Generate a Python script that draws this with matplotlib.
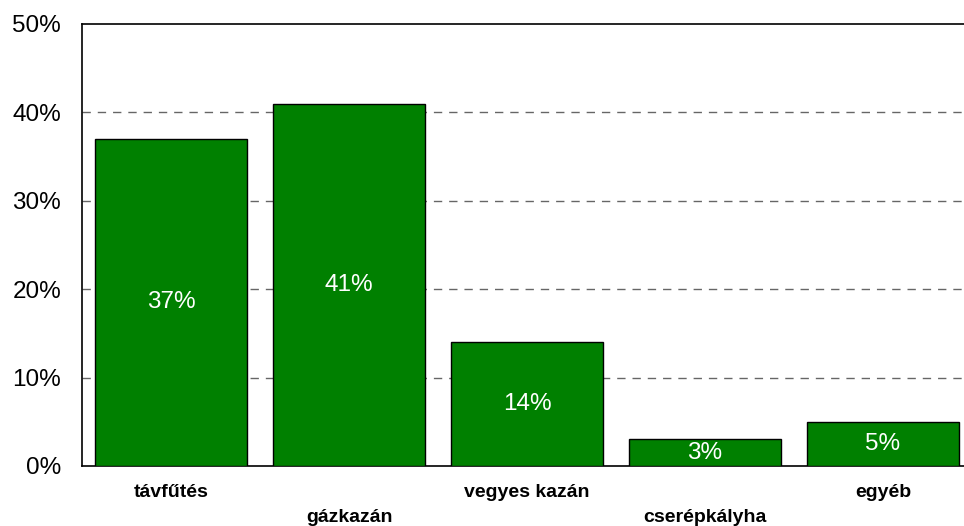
import matplotlib
matplotlib.use("Agg")
import matplotlib.pyplot as plt

# ==========================
# ADATOK
# ==========================

kategoriak = ["távfűtés", "gázkazán", "vegyes kazán", "cserépkályha", "egyéb"]
ertekek = [37, 41, 14, 3, 5]
y_tickek = [0, 10, 20, 30, 40, 50]

# ==========================
# ÁBRA
# ==========================

plt.rcParams["font.family"] = ["Liberation Sans", "DejaVu Sans"]

fig = plt.figure(figsize=(9.64, 5.26), dpi=100)
ax = fig.add_axes([82 / 964, 60 / 526, 882 / 964, 442 / 526])

x = list(range(len(kategoriak)))

ax.bar(x, ertekek, width=0.85, color="#008000", edgecolor="black",
       linewidth=1, zorder=3)

for xi, v in zip(x, ertekek):
    ax.text(xi, v / 2, f"{v}%", ha="center", va="center",
            color="white", fontsize=17.5, zorder=4)

# kategória címkék két sorban
for i, nev in enumerate(kategoriak):
    off = -19 if i % 2 == 0 else -37
    ax.annotate(nev, xy=(i, 0), xycoords=("data", "axes fraction"),
                xytext=(0, off), textcoords="offset points",
                ha="center", va="center", fontsize=14, fontweight="bold")

ax.set_xlim(-0.5, 4.455)
ax.set_ylim(0, 50)
ax.set_xticks([])
ax.set_yticks(y_tickek)
ax.set_yticklabels([f"{t}%" for t in y_tickek], fontsize=17.5)
ax.tick_params(axis="y", length=0, pad=15)

for t in y_tickek[1:-1]:
    ax.axhline(t, color="#666666", linestyle=(0, (6, 5)), linewidth=1, zorder=1)

ax.spines["right"].set_visible(False)
for s in ["left", "top", "bottom"]:
    ax.spines[s].set_linewidth(1.2)
    ax.spines[s].set_color("black")

fig.savefig("out.png", dpi=100)
